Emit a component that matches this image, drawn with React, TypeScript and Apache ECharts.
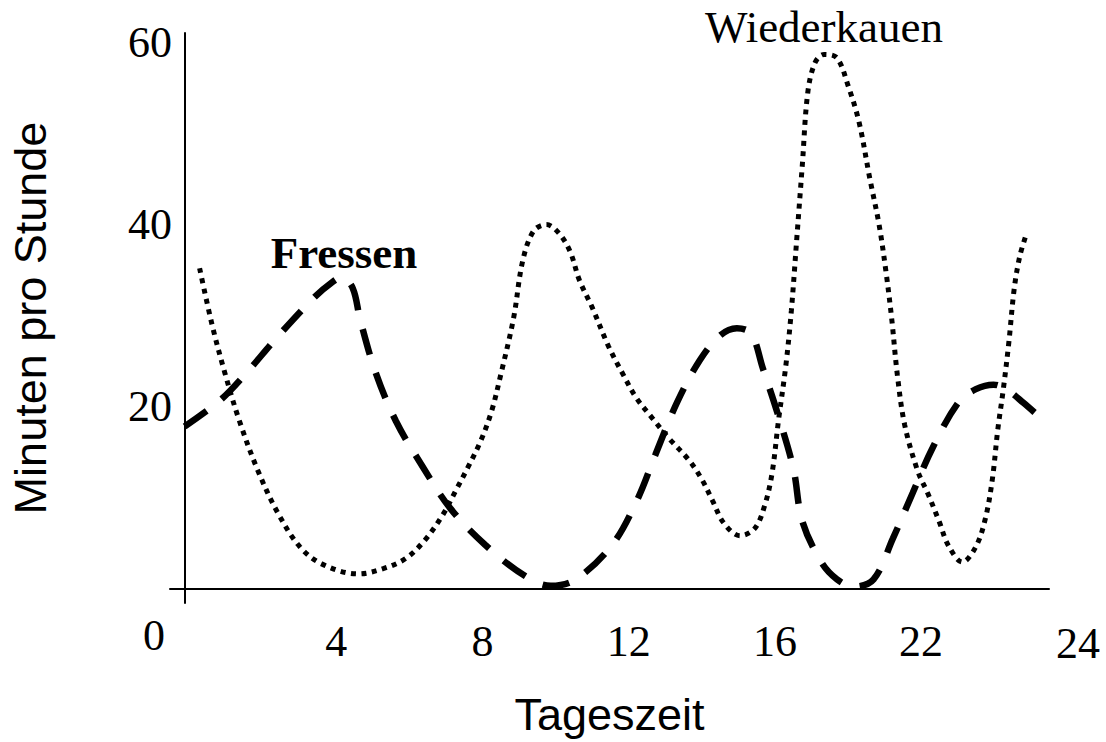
import React, { useEffect, useRef } from "react";
import * as echarts from "echarts";

// Fressen (dashed line): hour of day -> minutes per hour
const fressenHours = [-0.15, 0.8, 1.5, 2.4, 3.4, 3.9, 4.15, 4.45, 4.65, 5.07, 5.63, 6.33, 7.12, 8.07, 9.19, 9.87, 10.55, 11.55, 12.24, 12.73, 13.33, 13.95, 14.5, 14.96, 15.35, 15.67, 16.1, 16.51, 16.75, 17.27, 17.7, 18.15, 18.7, 19.23, 19.77, 20.32, 21.03, 21.5, 21.98, 22.4, 22.8, 23.2];
const fressenValues = [17.8, 20.6, 23.5, 27.7, 32.0, 33.7, 34.2, 33.0, 29.6, 23.8, 18.4, 13.6, 8.8, 4.8, 1.3, 0.3, 1.0, 4.8, 9.8, 14.7, 20.5, 25.1, 27.8, 28.6, 28.0, 24.2, 18.9, 13.1, 7.4, 2.9, 1.0, 0.2, 1.0, 5.5, 10.5, 15.5, 20.5, 21.9, 22.4, 21.7, 20.4, 19.0];

// Wiederkauen (dotted line)
const kauenHours = [0.26, 0.6, 0.95, 1.35, 1.85, 2.4, 3.0, 3.6, 4.6, 5.3, 5.9, 6.4, 6.9, 7.3, 7.6, 7.95, 8.25, 8.5, 8.85, 9.1, 9.4, 9.75, 10.1, 10.4, 10.65, 11.0, 11.45, 11.85, 12.2, 12.65, 13.1, 13.65, 14.0, 14.3, 14.6, 15.05, 15.45, 15.72, 15.92, 16.1, 16.3, 16.45, 16.6, 16.75, 16.9, 17.1, 17.35, 17.7, 18.0, 18.3, 18.6, 18.85, 19.05, 19.2, 19.35, 19.55, 19.9, 20.2, 20.5, 20.75, 21.13, 21.5, 21.76, 21.95, 22.1, 22.25, 22.4, 22.55, 22.7, 22.86];
const kauenValues = [35.2, 29.0, 23.7, 18.4, 13.0, 8.3, 4.6, 2.7, 1.6, 2.2, 3.3, 5.2, 8.0, 11.0, 13.3, 16.2, 19.5, 23.5, 29.7, 36.0, 39.3, 40.0, 39.0, 37.0, 33.9, 30.9, 26.6, 23.5, 21.0, 18.7, 16.5, 14.1, 12.0, 9.6, 7.2, 5.8, 6.6, 9.1, 12.6, 18.5, 24.5, 30.5, 38.5, 46.5, 54.5, 57.8, 58.7, 58.3, 55.3, 51.3, 45.0, 40.0, 34.5, 29.5, 23.5, 18.0, 13.0, 10.3, 7.3, 4.7, 2.9, 4.6, 7.7, 12.0, 17.5, 21.9, 27.0, 33.0, 36.5, 38.7];

// Tick labels
const xTickValues = [4, 8, 12, 16, 20];
const xTickLabels = ["4", "8", "12", "16", "22"];
const yTickValues = [20, 40, 60];
const yTickLabels = ["20", "40", "60"];
const cornerLabels = ["0", "24"];

const seriesNames = ["Fressen", "Wiederkauen"];
const axisNames = ["Tageszeit", "Minuten pro Stunde"];

const SERIF = "'Liberation Serif', 'Times New Roman', serif";
const SANS = "'Liberation Sans', Arial, sans-serif";

export default function App() {
  const ref = useRef<HTMLDivElement>(null);

  useEffect(() => {
    if (!ref.current) return;
    const chart = echarts.init(ref.current, null, { renderer: "svg" });
    const fressenData = fressenHours.map((h, i) => [h, fressenValues[i]]);
    const kauenData = kauenHours.map((h, i) => [h, kauenValues[i]]);

    const textStyle = (text: string, x: number, y: number, size: number, family: string, weight: string = "normal") => ({
      text,
      x,
      y,
      fontSize: size,
      fontFamily: family,
      fontWeight: weight,
      fill: "#000",
      textAlign: "center",
      textVerticalAlign: "middle",
      align: "center",
      verticalAlign: "middle",
    });

    chart.setOption({
      animation: false,
      backgroundColor: "#fff",
      grid: { left: 165, right: 57, top: 33, bottom: 122, containLabel: false },
      xAxis: {
        type: "value",
        min: -0.55,
        max: 23.5,
        name: axisNames[0],
        nameLocation: "middle",
        nameGap: 89,
        nameTextStyle: { fontFamily: SANS, fontSize: 45, color: "#000" },
        axisLine: { show: true, onZero: true, lineStyle: { color: "#000", width: 2 } },
        axisTick: { show: false },
        splitLine: { show: false },
        axisLabel: {
          customValues: xTickValues,
          formatter: (v: number) => {
            const i = xTickValues.indexOf(v);
            return i >= 0 ? xTickLabels[i] : "";
          },
          margin: 16,
          fontFamily: SERIF,
          fontSize: 44,
          color: "#000",
        },
      },
      yAxis: {
        type: "value",
        min: -1.6,
        max: 61.05,
        offset: -15,
        name: axisNames[1],
        nameLocation: "middle",
        nameGap: 132,
        nameRotate: 90,
        nameTextStyle: { fontFamily: SANS, fontSize: 45, color: "#000" },
        axisLine: { show: true, onZero: false, lineStyle: { color: "#000", width: 2 } },
        axisTick: { show: false },
        splitLine: { show: false },
        axisLabel: {
          customValues: yTickValues,
          formatter: (v: number) => {
            const i = yTickValues.indexOf(v);
            return i >= 0 ? yTickLabels[i] : "";
          },
          margin: 13,
          fontFamily: SERIF,
          fontSize: 44,
          color: "#000",
        },
      },
      series: [
        {
          name: seriesNames[0],
          type: "line",
          data: fressenData,
          smooth: 0.35,
          showSymbol: false,
          lineStyle: { color: "#000", width: 6.5, type: [27, 19], cap: "butt" },
        },
        {
          name: seriesNames[1],
          type: "line",
          data: kauenData,
          smooth: 0.35,
          showSymbol: false,
          lineStyle: { color: "#000", width: 5, type: [5, 5.5], cap: "butt" },
        },
      ],
      graphic: [
        { type: "text", style: textStyle(cornerLabels[0], 154, 635, 44, SERIF) },
        { type: "text", style: textStyle(cornerLabels[1], 1078, 643, 44, SERIF) },
        { type: "text", style: textStyle(seriesNames[0], 344, 253, 45, SERIF, "bold") },
        { type: "text", style: textStyle(seriesNames[1], 824, 27, 45, SERIF) },
      ],
    });

    return () => chart.dispose();
  }, []);

  return (
    <div
      ref={ref}
      style={{ position: "fixed", left: 0, top: 0, width: 1106, height: 742, background: "#fff" }}
    />
  );
}
